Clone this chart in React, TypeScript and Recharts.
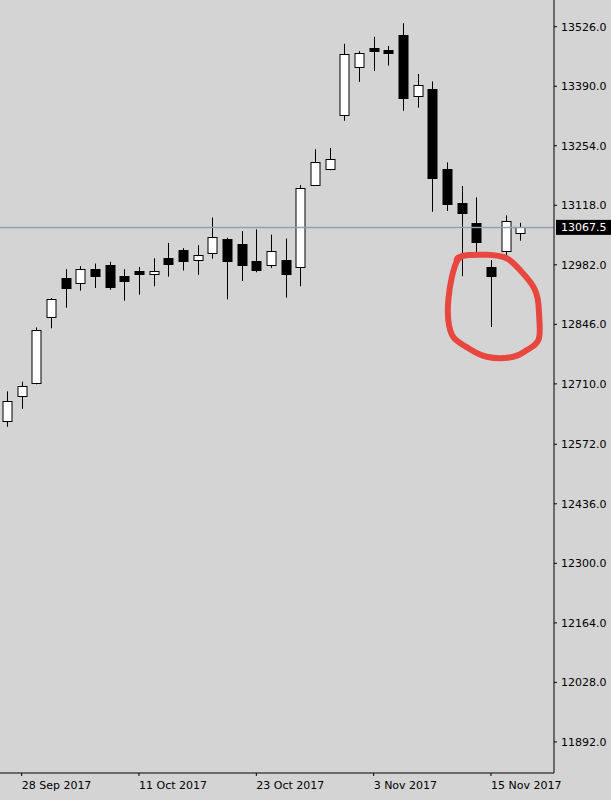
import {
  Bar,
  ComposedChart,
  Line,
  ReferenceLine,
  XAxis,
  YAxis,
} from "recharts";

// daily candles, left to right
const opens = [
  12625, 12683, 12712, 12862, 12951, 12940, 12972, 12981, 12956, 12968, 12961,
  12997, 13016, 12992, 13008, 13040, 13030, 12990, 12982, 12994, 12976, 13165,
  13200, 13324, 13433, 13478, 13472, 13508, 13367, 13384, 13201, 13124, 13077,
  12977, 13014, 13054,
];
const highs = [
  12693, 12715, 12839, 12906, 12972, 12979, 12985, 12989, 12972, 12977, 12997,
  13032, 13020, 13027, 13090, 13044, 13059, 13063, 13051, 13042, 13164, 13246,
  13249, 13487, 13470, 13503, 13482, 13534, 13418, 13401, 13216, 13162, 13136,
  12993, 13095, 13078,
];
const lows = [
  12612, 12653, 12709, 12837, 12884, 12923, 12929, 12925, 12900, 12914, 12933,
  12955, 12969, 12959, 12996, 12903, 12945, 12965, 12975, 12907, 12933, 13163,
  13198, 13311, 13400, 13425, 13437, 13334, 13341, 13103, 13105, 12956, 13006,
  12840, 13002, 13037,
];
const closes = [
  12670, 12705, 12832, 12905, 12929, 12972, 12956, 12932, 12946, 12962, 12968,
  12985, 12991, 13004, 13045, 12990, 12981, 12971, 13014, 12961, 13157, 13216,
  13224, 13463, 13466, 13471, 13466, 13363, 13392, 13181, 13121, 13100, 13035,
  12956, 13081, 13067.5,
];

const lastPrice = 13067.5;

const xTickIdx = [1, 9, 17, 25, 33];
const xTickLabels = [
  "28 Sep 2017",
  "11 Oct 2017",
  "23 Oct 2017",
  "3 Nov 2017",
  "15 Nov 2017",
];
const yTicks = [
  13526, 13390, 13254, 13118, 12982, 12846, 12710, 12572, 12436, 12300, 12164,
  12028, 11892,
];

// hand drawn red loop (bar index, price)
const loopIdx = [
  30.66, 31.0, 32.71, 34.07, 34.98, 35.89, 36.23, 36.3, 36.23, 35.44, 34.52,
  32.71, 31.34, 30.43, 30.09, 30.09, 30.32, 30.66, 30.95,
];
const loopPrice = [
  12989, 13002, 13005, 12997, 12970, 12932, 12894, 12856, 12810, 12787, 12772,
  12772, 12794, 12817, 12856, 12901, 12952, 12989, 13000,
];

const data = opens.map((o, i) => ({
  i,
  open: o,
  high: highs[i],
  low: lows[i],
  close: closes[i],
}));
const loop = loopIdx.map((i, k) => ({ i, v: loopPrice[k] }));

const FONT = "'DejaVu Sans', sans-serif";

function Candle(props: any) {
  const { x, y, width, height, payload } = props;
  if (!payload) return <g />;
  const top = Math.min(y, y + height);
  const h = Math.abs(height);
  const { open, close, high, low } = payload;
  const k = high > low ? h / (high - low) : 0;
  const py = (v: number) => top + (high - v) * k;
  const cx = Math.round(x + width / 2) + 0.5;
  const bTop = Math.round(py(Math.max(open, close))) + 0.5;
  const bBot = Math.round(py(Math.min(open, close))) + 0.5;
  const up = close >= open;
  return (
    <g>
      <line x1={cx} x2={cx} y1={top} y2={top + h} stroke="#000" strokeWidth={1} />
      <rect
        x={cx - 4.5}
        y={bTop}
        width={9}
        height={Math.max(bBot - bTop, 1)}
        fill={up ? "#fff" : "#000"}
        stroke="#000"
        strokeWidth={1}
      />
    </g>
  );
}

function XTick(props: any) {
  const { x, y, payload } = props;
  const label = xTickLabels[xTickIdx.indexOf(payload.value)];
  return (
    <text
      x={x}
      y={y}
      dy="0.71em"
      textAnchor="start"
      fill="#000"
      fontSize={11}
      fontFamily={FONT}
    >
      {label}
    </text>
  );
}

function PriceTag(props: any) {
  const { viewBox } = props;
  if (!viewBox) return null;
  const bx = viewBox.x + viewBox.width + 2;
  const by = viewBox.y - 7.5;
  return (
    <g>
      <rect x={bx} y={by} width={57} height={15} fill="#000" />
      <text
        x={bx + 5}
        y={by + 11.5}
        fill="#fff"
        fontSize={11}
        fontFamily={FONT}
      >
        {lastPrice.toFixed(1)}
      </text>
    </g>
  );
}

export default function App() {
  return (
    <div
      style={{
        position: "absolute",
        left: 0,
        top: 0,
        width: 611,
        height: 800,
        background: "#d4d4d4",
      }}
    >
      <ComposedChart
        width={611}
        height={800}
        data={data}
        margin={{ top: 0, right: 0, bottom: 0, left: 0 }}
      >
        <XAxis
          type="number"
          dataKey="i"
          domain={[-0.477, 37.297]}
          allowDataOverflow
          ticks={xTickIdx}
          interval={0}
          height={27}
          tickSize={3}
          tickMargin={5}
          stroke="#000"
          tick={<XTick />}
        />
        <YAxis
          orientation="right"
          type="number"
          domain={[11821, 13587]}
          allowDataOverflow
          ticks={yTicks}
          interval={0}
          width={57}
          tickSize={3}
          tickMargin={4}
          stroke="#000"
          tick={{ fill: "#000", fontSize: 11, fontFamily: FONT }}
          tickFormatter={(v: number) => v.toFixed(1)}
        />
        <ReferenceLine
          y={lastPrice}
          stroke="#8fa0b8"
          strokeWidth={1.5}
          label={<PriceTag />}
        />
        <Bar
          dataKey={(d: any) => [d.low, d.high]}
          barSize={9}
          isAnimationActive={false}
          shape={(p: any) => <Candle {...p} />}
        />
        <Line
          data={loop}
          dataKey="v"
          type="natural"
          stroke="#e8473f"
          strokeWidth={6}
          strokeLinecap="round"
          dot={false}
          activeDot={false}
          isAnimationActive={false}
        />
      </ComposedChart>
    </div>
  );
}
